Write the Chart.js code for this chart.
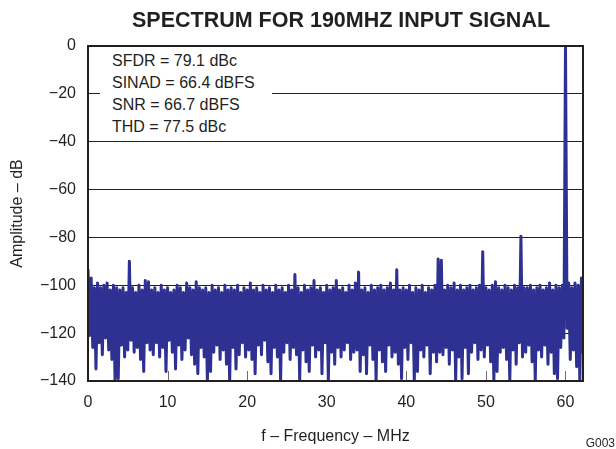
<!DOCTYPE html>
<html>
<head>
<meta charset="utf-8">
<script src="https://cdn.jsdelivr.net/npm/chart.js@4/dist/chart.umd.min.js"></script>
<style>
  body { margin: 0; background: #fff; }
  #wrap { position: relative; width: 616px; height: 449px; font-family: "Liberation Sans", Arial, Helvetica, sans-serif; color: #231f20; }
  #title { position: absolute; left: 341px; top: 10px; transform: translateX(-50%); font-weight: bold; font-size: 21.5px; line-height: 21px; white-space: nowrap; }
  #stats { position: absolute; left: 100px; top: 50px; width: 160px; padding-left: 12px; background: #fff; font-size: 16px; line-height: 22px; }
  #code { position: absolute; right: 1px; top: 437px; font-size: 12px; line-height: 12px; }
</style>
</head>
<body>
<div id="wrap">
  <canvas id="myChart" width="616" height="449"></canvas>
  <div id="title"></div>
  <div id="stats"></div>
  <div id="code">G003</div>
</div>
<script>
//标题与标注
var Title = 'SPECTRUM FOR 190MHZ INPUT SIGNAL';
var StatLines = ['SFDR = 79.1 dBc', 'SINAD = 66.4 dBFS', 'SNR = 66.7 dBFS', 'THD = 77.5 dBc'];

//FFT 频点间隔 (MHz) 与横轴范围
var binWidthMHz = 0.2;
var xMaxMHz = 62.2;
var xTickStep = 10;
var yTicks = [0, -20, -40, -60, -80, -100, -120, -140];

//噪声底 (dB)，每行 20 个频点 = 4 MHz
var floorDb = [
  -100, -121, -97, -126, -101, -135, -99, -124, -101, -129, -100, -122, -99, -127, -102, -131, -100, -140, -101, -139,
  -102, -125, -101, -130, -103, -127, -102, -123, -101, -128, -103, -126, -100, -131, -102, -136, -98, -124, -98.5, -127,
  -102, -129, -101, -124, -103, -130, -100, -126, -102, -136, -101, -123, -103, -128, -102, -135, -100, -125, -101, -131,
  -103, -127, -99, -122, -101, -129, -102, -133, -98.5, -137, -101, -126, -102, -130, -101, -140, -103, -136, -100, -128,
  -102, -125, -101, -131, -103, -127, -100, -133, -102, -140, -101, -126, -102, -135, -100, -129, -103, -124, -101, -130,
  -102, -127, -99, -131, -102, -137, -101, -125, -103, -129, -100, -123, -102, -132, -101, -137, -103, -126, -100, -130,
  -102, -140, -101, -128, -103, -124, -100, -131, -102, -126, -101, -129, -101, -140, -103, -127, -100, -132, -102, -136,
  -101, -125, -98, -130, -102, -127, -101, -137, -103, -124, -100, -140, -102, -128, -101, -133, -98, -126, -102, -130,
  -101, -127, -103, -124, -100, -131, -102, -128, -99, -127, -101, -136, -102, -129, -101, -137, -103, -125, -100, -131,
  -102, -140, -101, -127, -100, -132, -102, -136, -101, -125, -99, -130, -102, -128, -100, -133, -102, -139, -101, -126,
  -102, -131, -100, -124, -103, -140, -101, -136, -102, -127, -100, -130, -103, -125, -101, -137, -102, -128, -100, -132,
  -101, -128, -101, -129, -102, -126, -100, -133, -101, -127, -99, -140, -102, -130, -100, -139, -102, -126, -101, -137,
  -100, -128, -102, -124, -101, -131, -100, -127, -102, -130, -101, -125, -102, -132, -100, -140, -98.5, -136, -101, -128,
  -102, -126, -100, -131, -101, -140, -102, -127, -100, -133, -101, -124, -102, -130, -101, -128, -101, -125, -100, -132,
  -102, -140, -101, -127, -100, -130, -102, -125, -101, -133, -99, -128, -102, -137, -100, -139, -101, -126, -100, -122,
  -101, -118, -99, -131, -101, -127, -99, -134, -100, -140, -97, -128
];

//杂散与基波
var spurFreqMHz = [0, 5.2, 26.0, 34.0, 38.8, 44.0, 44.4, 49.6, 54.4, 60.0];
var spurDb = [-93.5, -90, -95.5, -94.5, -93.5, -89, -89.5, -86, -79.5, -0.5];

var FONT = '"Liberation Sans", Arial, Helvetica, sans-serif';
var INK = '#231f20';

document.getElementById('title').innerText = Title;
document.getElementById('stats').innerHTML = StatLines.map(s => '<div>' + s + '</div>').join('');

//合并噪声底与杂散
var spectrum = floorDb.slice();
spurFreqMHz.forEach((f, k) => {
    spectrum[Math.round(f / binWidthMHz)] = spurDb[k];
});
var points = spectrum.map((v, i) => ({ x: i * binWidthMHz, y: v }));

//边框与底部内侧刻度
var framePlugin = {
    id: 'frame',
    beforeDatasetsDraw(chart) {
        let { ctx, chartArea: a, scales: { x } } = chart;
        ctx.save();
        ctx.strokeStyle = '#6d6e71';
        ctx.lineWidth = 1;
        x.ticks.forEach(t => {
            let px = Math.round(x.getPixelForValue(t.value)) + 0.5;
            ctx.beginPath();
            ctx.moveTo(px, a.bottom);
            ctx.lineTo(px, a.bottom - 10);
            ctx.stroke();
        });
        ctx.restore();
    },
    afterDatasetsDraw(chart) {
        let { ctx, chartArea: a } = chart;
        ctx.save();
        ctx.strokeStyle = INK;
        ctx.lineWidth = 2;
        ctx.strokeRect(a.left, a.top, a.right - a.left, a.bottom - a.top);
        ctx.restore();
    }
};

var ctx = document.getElementById('myChart').getContext('2d');
var myChart = new Chart(ctx, {
    type: 'line',
    data: {
        datasets: [{
            data: points,
            borderColor: '#2e3192',
            borderWidth: 3,
            borderJoinStyle: 'round',
            borderCapStyle: 'round',
            pointRadius: 0,
            tension: 0,
            fill: false
        }]
    },
    options: {
        responsive: false,
        animation: false,
        devicePixelRatio: 1,
        layout: { padding: { left: 0, right: 33, top: 46, bottom: 0 } },
        plugins: { legend: { display: false }, tooltip: { enabled: false }, title: { display: false } },
        scales: {
            x: {
                type: 'linear',
                min: 0,
                max: xMaxMHz,
                grid: { display: false, drawTicks: false },
                border: { display: false },
                ticks: {
                    stepSize: xTickStep,
                    includeBounds: false,
                    maxRotation: 0,
                    padding: 12,
                    color: INK,
                    font: { family: FONT, size: 16 }
                },
                title: {
                    display: true,
                    text: 'f – Frequency – MHz',
                    color: INK,
                    font: { family: FONT, size: 16 },
                    padding: { top: 0, bottom: 3 }
                },
                afterFit: s => { s.height = 68 }
            },
            y: {
                min: yTicks[yTicks.length - 1],
                max: yTicks[0],
                grid: { color: INK, lineWidth: 1, drawTicks: false },
                border: { display: false },
                ticks: {
                    stepSize: 20,
                    padding: 12,
                    color: INK,
                    font: { family: FONT, size: 16 },
                    callback: v => v < 0 ? '\u2212' + Math.abs(v) : '' + v
                },
                title: {
                    display: true,
                    text: 'Amplitude – dB',
                    color: INK,
                    font: { family: FONT, size: 16 },
                    padding: { top: 8, bottom: 0 }
                },
                afterFit: s => { s.width = 88 }
            }
        }
    },
    plugins: [framePlugin]
});
</script>
</body>
</html>
